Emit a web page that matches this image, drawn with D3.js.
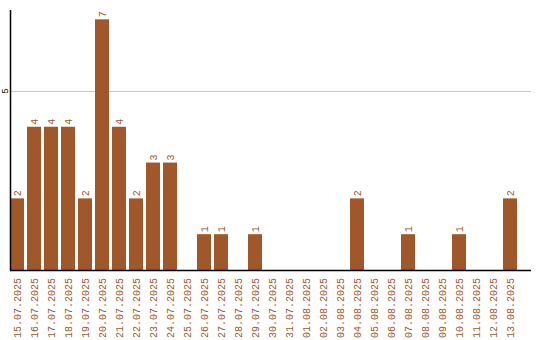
<!DOCTYPE html>
<html>
<head>
<meta charset="utf-8">
<script src="https://cdn.jsdelivr.net/npm/d3@7"></script>
<style>
  body { margin: 0; background: #fff; }
  svg { display: block; }
</style>
</head>
<body>
<div id="chart"></div>
<script>
var dates = ["15.07.2025", "16.07.2025", "17.07.2025", "18.07.2025", "19.07.2025",
    "20.07.2025", "21.07.2025", "22.07.2025", "23.07.2025", "24.07.2025",
    "25.07.2025", "26.07.2025", "27.07.2025", "28.07.2025", "29.07.2025",
    "30.07.2025", "31.07.2025", "01.08.2025", "02.08.2025", "03.08.2025",
    "04.08.2025", "05.08.2025", "06.08.2025", "07.08.2025", "08.08.2025",
    "09.08.2025", "10.08.2025", "11.08.2025", "12.08.2025", "13.08.2025"];
var counts = [2, 4, 4, 4, 2, 7, 4, 2, 3, 3, 0, 1, 1, 0, 1, 0, 0, 0, 0, 0, 2, 0, 0, 1, 0, 0, 1, 0, 0, 2];
var yTicks = [5];

var width = 540, height = 340;
var barColor = "#a0582a";
var font = "Liberation Mono, monospace";

var svg = d3.select("#chart").append("svg")
    .attr("width", width)
    .attr("height", height);

var xScale = d3.scaleBand()
    .domain(dates)
    .range([10, 517])
    .paddingInner(3 / 17)
    .paddingOuter(0);

var yScale = d3.scaleLinear()
    .domain([0, 7.26])
    .range([270, 10]);

// grid line
svg.selectAll("line.grid")
    .data(yTicks)
    .enter().append("line")
    .attr("class", "grid")
    .attr("x1", 10)
    .attr("x2", 531)
    .attr("y1", d => Math.round(yScale(d)) + 0.5)
    .attr("y2", d => Math.round(yScale(d)) + 0.5)
    .attr("stroke", "#c8c8c8")
    .attr("stroke-width", 1);

// y tick labels, rotated
svg.selectAll("text.ytick")
    .data(yTicks)
    .enter().append("text")
    .attr("class", "ytick")
    .attr("transform", d => "translate(7.5," + yScale(d) + ") rotate(-90)")
    .attr("text-anchor", "middle")
    .style("font-family", font)
    .style("font-size", "9px")
    .attr("fill", "#000")
    .text(d => d);

var data = dates.map((d, i) => ({date: d, value: counts[i]}));

svg.selectAll("rect")
    .data(data.filter(d => d.value > 0))
    .enter().append("rect")
    .attr("x", d => xScale(d.date))
    .attr("y", d => yScale(d.value))
    .attr("width", xScale.bandwidth())
    .attr("height", d => yScale(0) - yScale(d.value))
    .attr("fill", barColor);

// value labels
svg.selectAll("text.val")
    .data(data.filter(d => d.value > 0))
    .enter().append("text")
    .attr("class", "val")
    .attr("transform", d => "translate(" + (xScale(d.date) + xScale.bandwidth() / 2 + 3.5) + "," + (yScale(d.value) - 2) + ") rotate(-90)")
    .attr("text-anchor", "start")
    .style("font-family", font)
    .style("font-size", "10px")
    .attr("fill", barColor)
    .text(d => d.value);

// x labels
svg.selectAll("text.xlab")
    .data(dates)
    .enter().append("text")
    .attr("class", "xlab")
    .attr("transform", d => "translate(" + (xScale(d) + xScale.bandwidth() / 2 + 3.5) + ",278) rotate(-90)")
    .attr("text-anchor", "end")
    .style("font-family", font)
    .style("font-size", "10px")
    .attr("fill", barColor)
    .text(d => d);

// axes lines
svg.append("line")
    .attr("x1", 10.5).attr("x2", 10.5)
    .attr("y1", 10).attr("y2", 270)
    .attr("stroke", "#000").attr("stroke-width", 1.5);

svg.append("line")
    .attr("x1", 10).attr("x2", 531)
    .attr("y1", 270.5).attr("y2", 270.5)
    .attr("stroke", "#000").attr("stroke-width", 1.5);
</script>
</body>
</html>
